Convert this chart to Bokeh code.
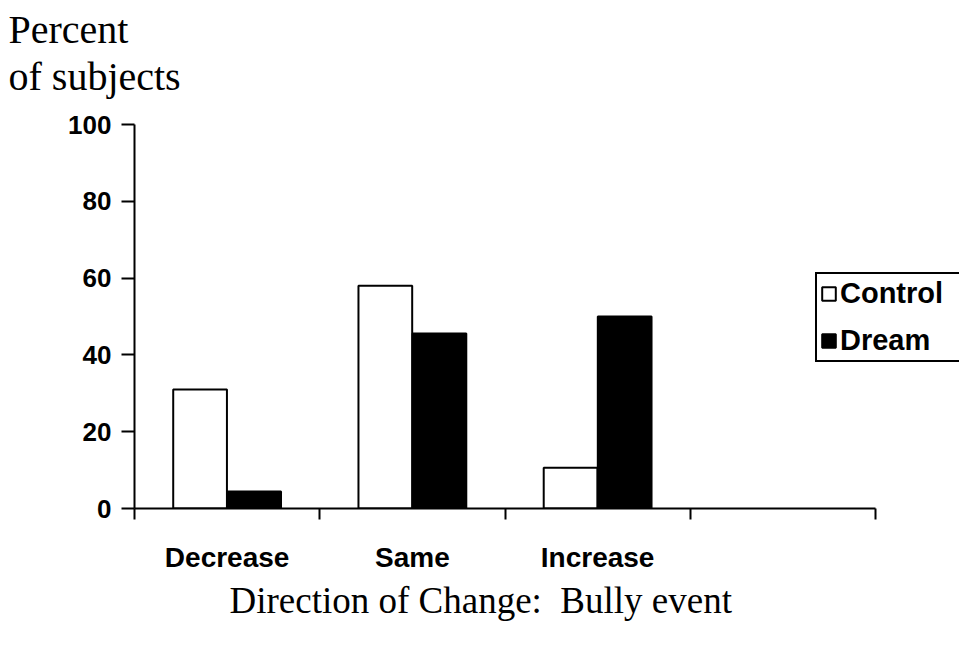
import numpy as np
from bokeh.plotting import figure
from bokeh.models import (ColumnDataSource, Range1d, FixedTicker, LinearAxis, Legend,
                          LegendItem, Title)
from bokeh.transform import dodge
from bokeh.embed import file_html
from bokeh.resources import INLINE

categories = ["Decrease", "Same", "Increase"]
control = [31, 58, 10.6]
dream = [4.4, 45.6, 50]
y_ticks = [0, 20, 40, 60, 80, 100]
n_slots = 4

src = ColumnDataSource(dict(
    x=np.arange(len(categories)) + 0.5,
    control=control,
    dream=dream,
))

# frame runs from x=134 to the right edge; the axis itself stops at slot 4 (x=875)
x_end = n_slots * (959 - 134) / (875 - 134)

p = figure(width=959, height=649, output_backend="svg", toolbar_location=None,
           x_range=Range1d(0, x_end), y_range=Range1d(0, 100),
           x_axis_location=None, min_border_left=134, min_border_right=0,
           min_border_top=124, min_border_bottom=141)
p.outline_line_color = None
p.grid.visible = False
p.background_fill_color = "white"
p.border_fill_color = "white"

BOLD = "Liberation Sans"
SERIF = "Liberation Serif"

# y axis
ya = p.yaxis[0]
ya.ticker = FixedTicker(ticks=y_ticks)
ya.major_tick_out = 13
ya.major_tick_in = 0
ya.minor_tick_line_color = None
ya.axis_line_width = 2
ya.major_tick_line_width = 2
ya.major_label_text_font = BOLD
ya.major_label_text_font_style = "bold"
ya.major_label_text_font_size = "26px"
ya.major_label_text_color = "black"
ya.major_label_standoff = 10

# x axis with boundary ticks (no labels)
xa = LinearAxis(ticker=FixedTicker(ticks=list(range(n_slots + 1))),
                major_label_overrides={i: "" for i in range(n_slots + 1)},
                major_label_text_font_size="1px", major_label_standoff=0,
                major_tick_out=11, major_tick_in=0, minor_tick_line_color=None,
                axis_line_width=2, major_tick_line_width=2, bounds=(0, n_slots))
p.add_layout(xa, "below")

# x axis with category labels
xb = LinearAxis(ticker=FixedTicker(ticks=list(np.arange(len(categories)) + 0.5)),
                major_label_overrides={float(i + 0.5): c for i, c in enumerate(categories)},
                axis_line_color=None, major_tick_line_color=None, minor_tick_line_color=None,
                major_label_standoff=16, major_label_text_font=BOLD,
                major_label_text_font_style="bold", major_label_text_font_size="28px",
                major_label_text_color="black", bounds=(0, n_slots))
p.add_layout(xb, "below")

p.add_layout(Title(text="Direction of Change:\u00a0 Bully event", text_font=SERIF,
                   text_font_style="normal", text_font_size="37px", align="left",
                   text_color="black", offset=95, standoff=5), "below")

p.add_layout(Title(text="of subjects", text_font=SERIF, text_font_style="normal",
                   text_color="black", text_font_size="40px", align="left",
                   offset=-126, standoff=51), "above")
p.add_layout(Title(text="Percent", text_font=SERIF, text_font_style="normal",
                   text_color="black", text_font_size="40px", align="left",
                   offset=-126, standoff=-50), "above")

w = 0.29
r1 = p.vbar(x=dodge("x", -0.146, range=p.x_range), top="control", width=w, source=src,
            fill_color="white", line_color="black", line_width=2)
r2 = p.vbar(x=dodge("x", 0.146, range=p.x_range), top="dream", width=w, source=src,
            fill_color="black", line_color="black", line_width=2)

legend = Legend(items=[LegendItem(label="Control", renderers=[r1]),
                       LegendItem(label="Dream", renderers=[r2])],
                location=(681, 146), border_line_color="black", border_line_width=2,
                border_line_alpha=1,
                background_fill_color="white", background_fill_alpha=1,
                label_text_font=BOLD, label_text_font_style="bold",
                label_text_font_size="29px", label_text_color="black",
                glyph_width=17, glyph_height=17, label_width=135,
                label_standoff=3, padding=3, spacing=14, margin=0)
p.add_layout(legend)

open("out.html", "w").write(file_html(p, INLINE))
